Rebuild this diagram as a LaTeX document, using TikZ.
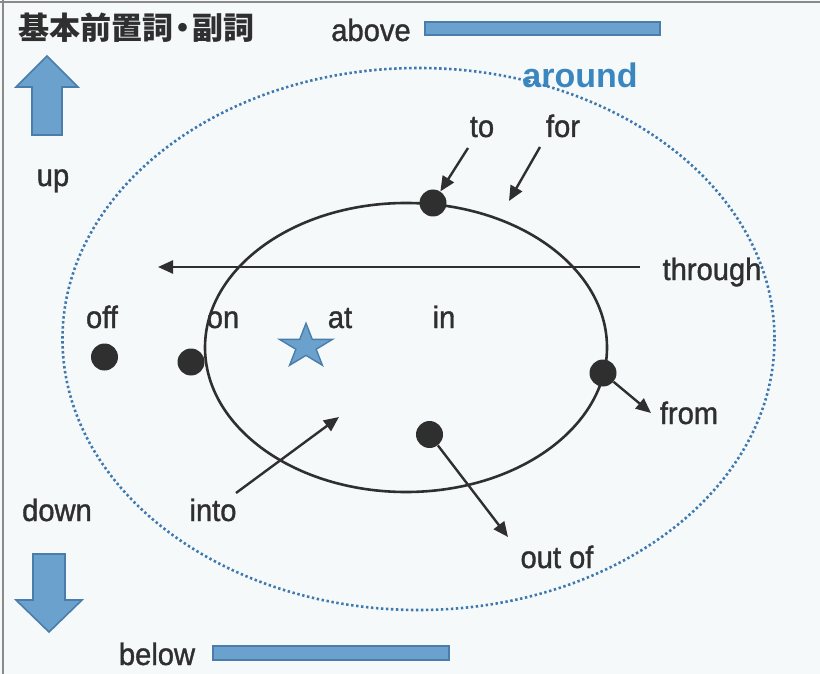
\documentclass[tikz,border=0pt]{standalone}
\usepackage{fontspec}
\setmainfont{Liberation Sans}
\newfontfamily\lblfont{Liberation Sans}[FakeBold=1.2, FakeStretch=0.94]
\newfontfamily\cjk{Noto Sans CJK JP}
\usetikzlibrary{arrows.meta}
\definecolor{bg}{HTML}{F5F9FA}
\definecolor{ink}{HTML}{2F2F2F}
\definecolor{bfill}{HTML}{6BA1CD}
\definecolor{bline}{HTML}{4A7DAB}
\definecolor{dotblue}{HTML}{3E78AE}
\definecolor{aroundc}{HTML}{3A87C0}
\definecolor{frame}{HTML}{8A8A8A}
\tikzset{
  lbl/.style={text=ink, inner sep=0pt, anchor=base, font=\lblfont\fontsize{31}{36}\selectfont},
  pdot/.style={circle, fill=ink, inner sep=0pt, minimum size=27pt},
  arr/.style={draw=ink, line width=2.4pt, -{Triangle[length=15pt,width=13pt]}},
  bluebox/.style={fill=bfill, draw=bline, line width=1.6pt},
}
\begin{document}
\begin{tikzpicture}[x=1pt,y=-1pt]
\useasboundingbox (0,0) rectangle (820,674);
\fill[bg] (0,0) rectangle (820,674);
\draw[frame, line width=1.5pt] (0,2) -- (820,2);
\draw[frame, line width=1.5pt] (3,0) -- (3,674);

% title
\node[text=ink, inner sep=0pt, font=\cjk\bfseries\fontsize{31}{34}\selectfont] (title) at (136.5,28) {基本前置詞\kern-0.2em・\kern-0.2em副詞};

% above / below
\node[lbl] (labove) at (371,41) {above};
\draw[bluebox] (425,22) rectangle (660,35);
\node[lbl] (lbelow) at (157,665) {below};
\draw[bluebox] (213,646) rectangle (449,660);

% up / down arrows
\draw[bluebox, line join=miter] (47,56) -- (78,87) -- (62,87) -- (62,135) -- (32,135) -- (32,87) -- (16,87) -- cycle;
\node[lbl] (lup) at (53,186) {up};
\draw[bluebox, line join=miter] (33,554) -- (65,554) -- (65,600) -- (82,600) -- (49,632) -- (16,600) -- (33,600) -- cycle;
\node[lbl] (ldown) at (57,521) {down};

% ellipses
\draw[dotblue, line width=2.6pt, dash pattern=on 2.4pt off 2.6pt] (418.5,339) ellipse [x radius=356, y radius=271];
\node[text=aroundc, inner sep=0pt, anchor=base, font=\bfseries\fontsize{34}{40}\selectfont] (laround) at (580,88) {around};
\draw[ink, line width=2.6pt] (406,347.5) ellipse [x radius=201, y radius=144.5];

% dots
\node[pdot] (dto) at (433,203) {};
\node[pdot] (doff) at (104.5,357) {};
\node[pdot] (don) at (191,362) {};
\node[pdot] (dfrom) at (603,373) {};
\node[pdot] (dout) at (429.5,434.5) {};

% star
\begin{scope}[shift={(306,346.5)}, xscale=27.9, yscale=-23.2]
\draw[fill=bfill, draw=bline, line width=1.4pt, line join=miter]
 (0,1) -- (-0.2245,0.309) -- (-0.9511,0.309) -- (-0.3633,-0.118) -- (-0.5878,-0.809)
 -- (0,-0.382) -- (0.5878,-0.809) -- (0.3633,-0.118) -- (0.9511,0.309) -- (0.2245,0.309) -- cycle;
\end{scope}

% labels
\node[lbl] (lto) at (482,137) {to};
\node[lbl] (lfor) at (563,137) {for};
\node[lbl] (lthrough) at (712,280) {through};
\node[lbl] (loff) at (102,328) {off};
\node[lbl] (lon) at (223,328) {on};
\node[lbl] (lat) at (340,328) {at};
\node[lbl] (lin) at (444,328) {in};
\node[lbl] (lfrom) at (689,424) {from};
\node[lbl] (linto) at (213,521) {into};
\node[lbl] (lout) at (557,568) {out of};

% arrows
\coordinate (tos) at (468,148);
\coordinate (fors) at (540,147);
\coordinate (fore) at (509,201);
\coordinate (ths) at (640,267);
\coordinate (the) at (158,267);
\coordinate (frome) at (651,413);
\coordinate (oute) at (508,537);
\coordinate (intos) at (236,493);
\coordinate (intoe) at (339,417);
\draw[arr] (tos) -- (dto);
\draw[arr] (fors) -- (fore);
\draw[arr] (ths) -- (the);
\draw[arr] (dfrom) -- (frome);
\draw[arr] (dout) -- (oute);
\draw[arr] (intos) -- (intoe);
\end{tikzpicture}
\end{document}
